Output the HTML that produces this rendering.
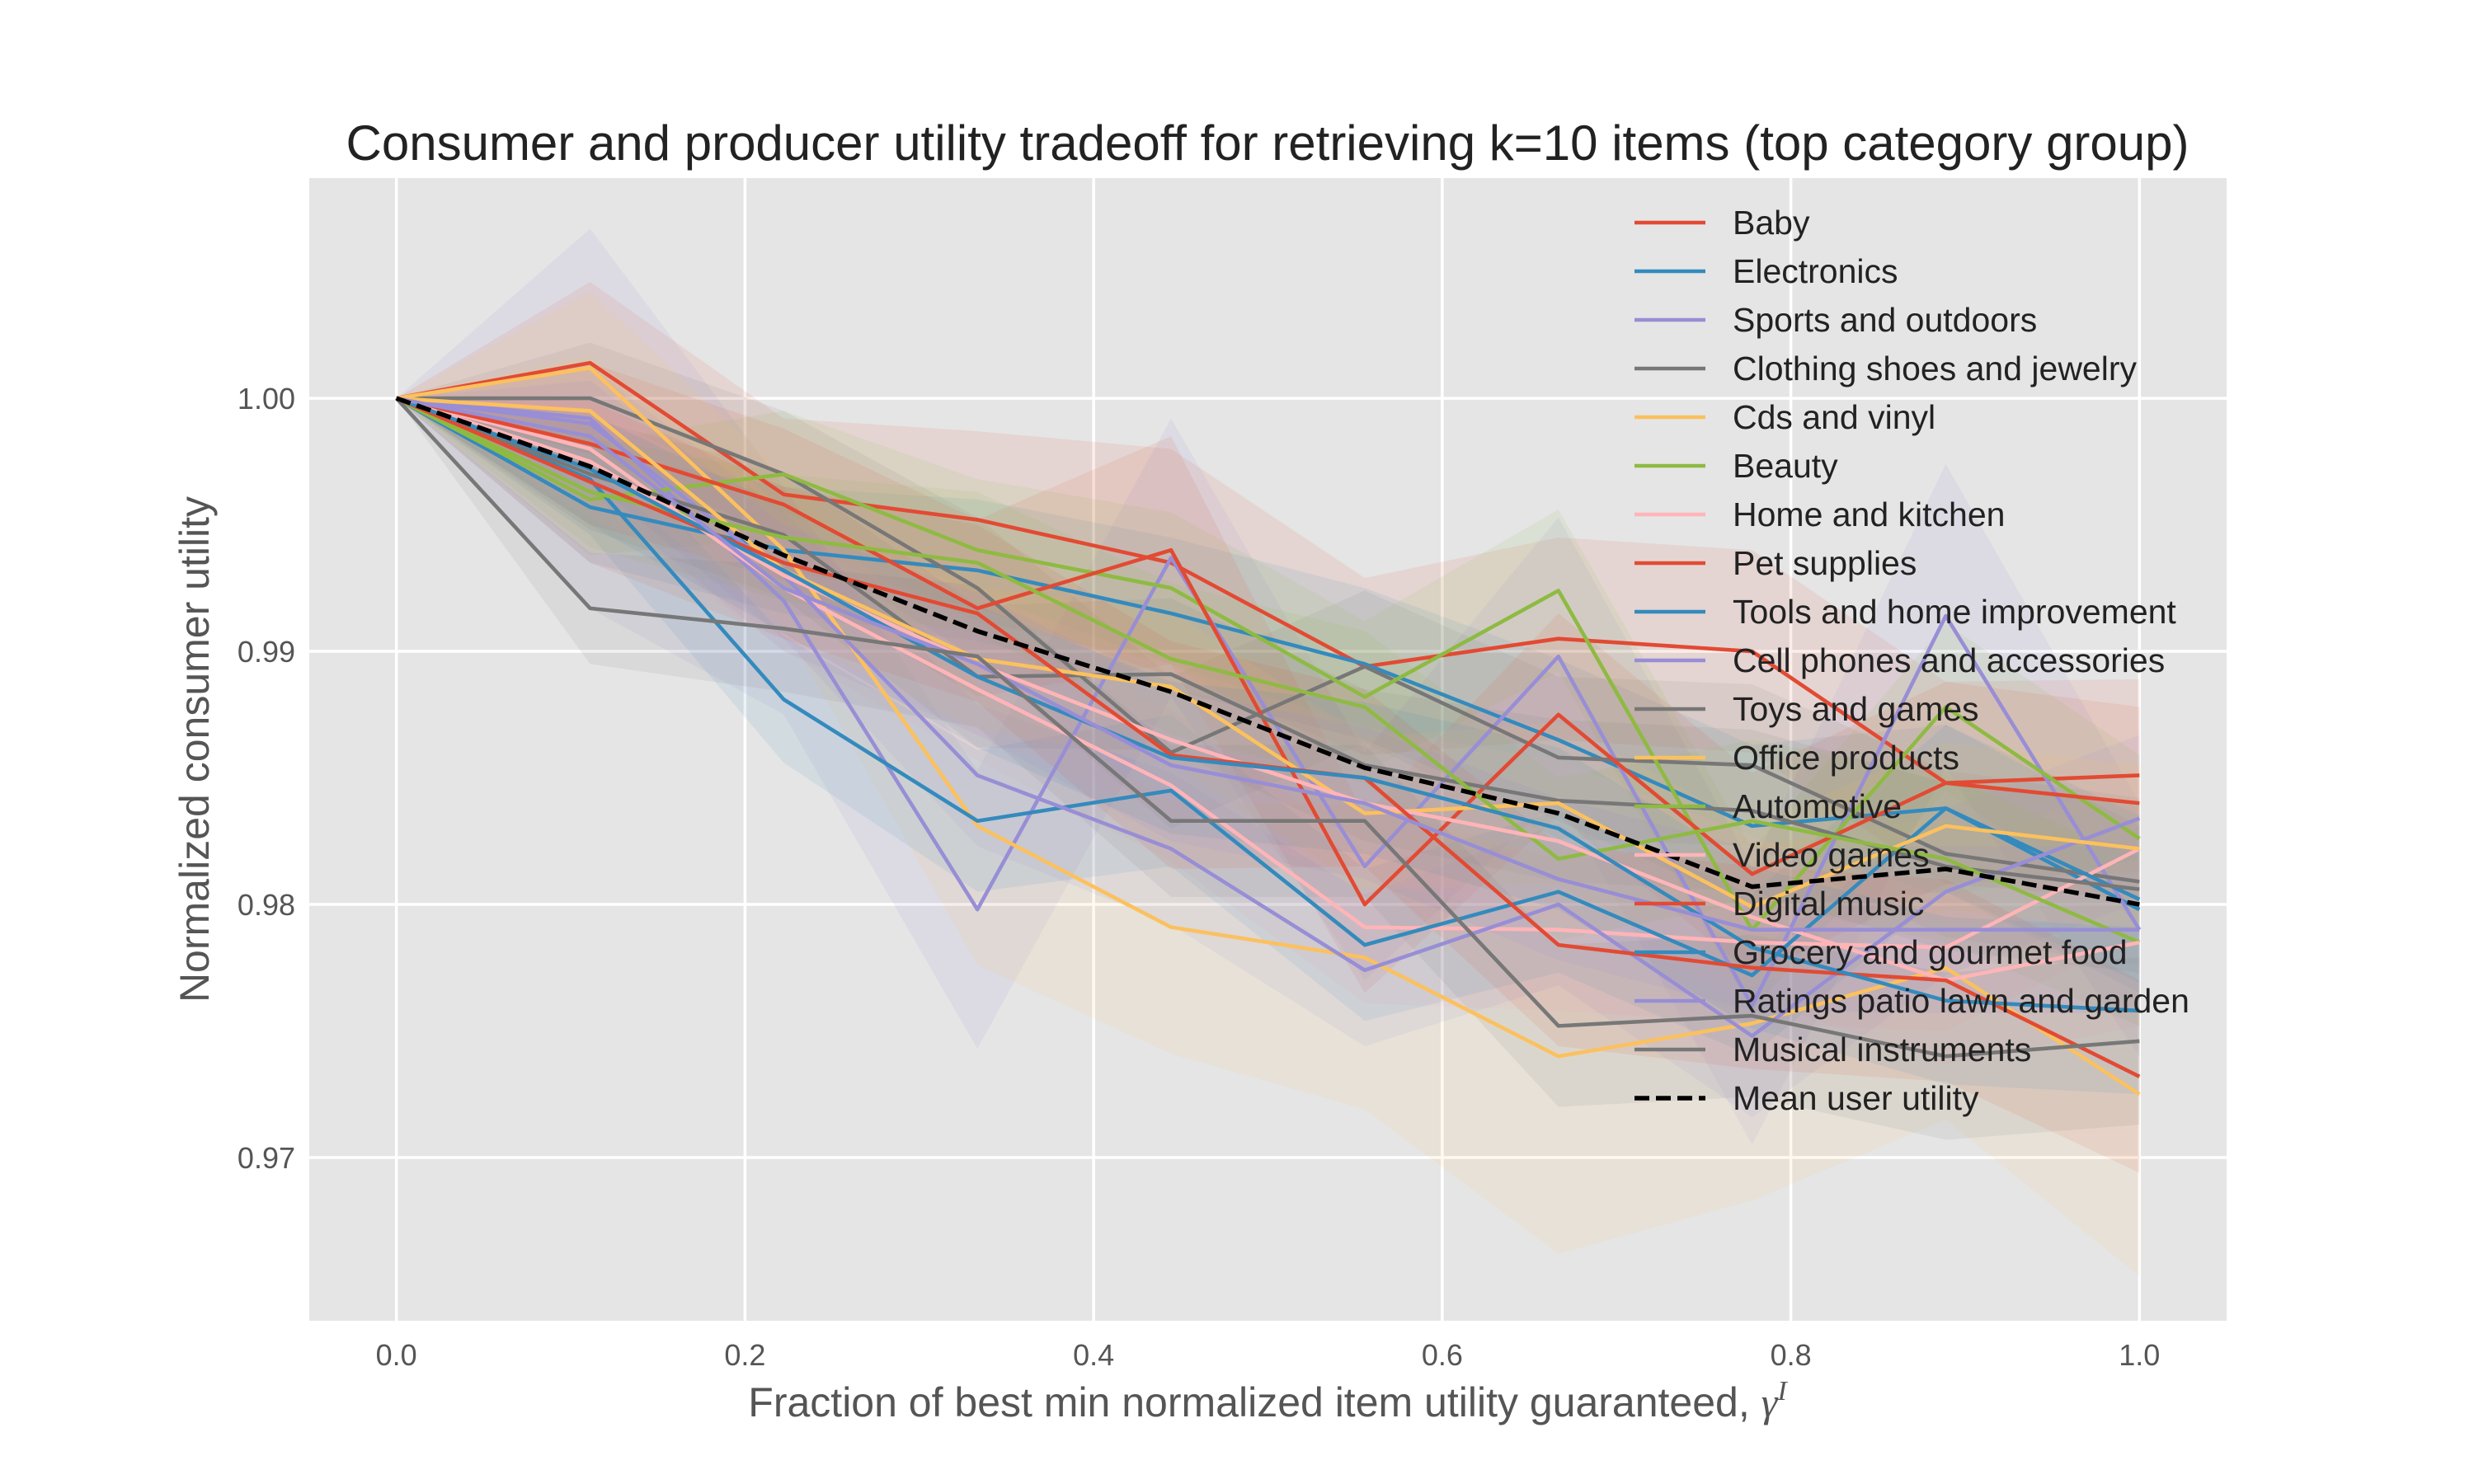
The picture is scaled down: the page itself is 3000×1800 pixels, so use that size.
<!DOCTYPE html>
<html><head><meta charset="utf-8"><style>
html,body{margin:0;padding:0;background:#fff;}
svg{display:block;font-family:"Liberation Sans",sans-serif;}
</style></head><body>
<svg id="chart" width="3000" height="1800" viewBox="0 0 3000 1800">
<rect x="0" y="0" width="3000" height="1800" fill="#fff"/>
<rect x="375" y="216" width="2325" height="1386" fill="#E5E5E5"/>
<g id="grid"></g>
<g id="bands"></g>
<g id="lines"></g>
<g id="ticks"></g>
<g id="legend"></g>
<text x="1537" y="194" text-anchor="middle" font-size="60" fill="#222">Consumer and producer utility tradeoff for retrieving k=10 items (top category group)</text>
<text x="1537" y="1718" text-anchor="middle" font-size="50" fill="#555">Fraction of best min normalized item utility guaranteed, <tspan font-family="Liberation Serif" font-style="italic">γ</tspan><tspan font-family="Liberation Serif" font-style="italic" font-size="34" dy="-20">I</tspan></text>
<text transform="translate(253,909) rotate(-90)" text-anchor="middle" font-size="50" fill="#555">Normalized consumer utility</text>
</svg>
<script>
const xValues = [0, 1/9, 2/9, 3/9, 4/9, 5/9, 6/9, 7/9, 8/9, 1];
const seriesNames = ["Baby","Electronics","Sports and outdoors","Clothing shoes and jewelry","Cds and vinyl","Beauty","Home and kitchen","Pet supplies","Tools and home improvement","Cell phones and accessories","Toys and games","Office products","Automotive","Video games","Digital music","Grocery and gourmet food","Ratings patio lawn and garden","Musical instruments"];
const baby = [1, 1.0014, 0.9962, 0.9952, 0.9935, 0.9894, 0.9905, 0.9900, 0.9848, 0.9851];
const electronics = [1, 0.9957, 0.9940, 0.9932, 0.9915, 0.9895, 0.9865, 0.9831, 0.9838, 0.9798];
const sports = [1, 0.9992, 0.9920, 0.9798, 0.9937, 0.9815, 0.9898, 0.9760, 0.9914, 0.9790];
const clothing = [1, 1.0000, 0.9970, 0.9925, 0.9860, 0.9894, 0.9858, 0.9855, 0.9820, 0.9809];
const cds = [1, 1.0012, 0.9940, 0.9831, 0.9791, 0.9779, 0.9740, 0.9753, 0.9775, 0.9725];
const beauty = [1, 0.9960, 0.9970, 0.9940, 0.9925, 0.9882, 0.9924, 0.9790, 0.9878, 0.9826];
const home = [1, 0.9980, 0.9925, 0.9885, 0.9847, 0.9791, 0.9790, 0.9785, 0.9783, 0.9822];
const pet = [1, 0.9982, 0.9958, 0.9917, 0.9940, 0.9800, 0.9875, 0.9812, 0.9848, 0.9840];
const tools = [1, 0.9968, 0.9881, 0.9833, 0.9845, 0.9784, 0.9805, 0.9772, 0.9838, 0.9802];
const cell = [1, 0.9990, 0.9930, 0.9851, 0.9822, 0.9774, 0.9800, 0.9748, 0.9805, 0.9834];
const toys = [1, 0.9970, 0.9946, 0.9890, 0.9891, 0.9855, 0.9841, 0.9837, 0.9815, 0.9806];
const office = [1, 0.9995, 0.9932, 0.9897, 0.9886, 0.9836, 0.9840, 0.9799, 0.9831, 0.9822];
const automotive = [1, 0.9963, 0.9945, 0.9935, 0.9897, 0.9878, 0.9818, 0.9833, 0.9818, 0.9785];
const video = [1, 0.9975, 0.9930, 0.9895, 0.9865, 0.9840, 0.9825, 0.9795, 0.9770, 0.9785];
const digital = [1, 0.9967, 0.9935, 0.9915, 0.9859, 0.9850, 0.9784, 0.9775, 0.9770, 0.9732];
const grocery = [1, 0.9972, 0.9932, 0.9890, 0.9858, 0.9850, 0.9830, 0.9783, 0.9762, 0.9758];
const ratings = [1, 0.9985, 0.9925, 0.9895, 0.9855, 0.9840, 0.9810, 0.9790, 0.9790, 0.9790];
const musical = [1, 0.9917, 0.9909, 0.9898, 0.9833, 0.9833, 0.9752, 0.9756, 0.9740, 0.9746];
const meanUtility = [1, 0.9973, 0.9938, 0.9908, 0.9884, 0.9854, 0.9836, 0.9807, 0.9814, 0.9800];
const errDefault = [0, 0.0022, 0.0025, 0.0028, 0.003, 0.003, 0.0032, 0.0032, 0.0033, 0.0033];
const errWide = [0, 0.0075, 0.0045, 0.0055, 0.0055, 0.0045, 0.0055, 0.0055, 0.006, 0.005];
const errRed = [0, 0.0032, 0.003, 0.0035, 0.0045, 0.0035, 0.004, 0.004, 0.004, 0.0038];
const errCds = [0, 0.003, 0.003, 0.0055, 0.005, 0.006, 0.0078, 0.007, 0.006, 0.0072];
const xTicks = [0, 0.2, 0.4, 0.6, 0.8, 1.0];
const xTickLabels = ["0.0","0.2","0.4","0.6","0.8","1.0"];
const yTicks = [0.97, 0.98, 0.99, 1.00];
const yTickLabels = ["0.97","0.98","0.99","1.00"];

const seriesValues = [baby, electronics, sports, clothing, cds, beauty, home, pet, tools, cell, toys, office, automotive, video, digital, grocery, ratings, musical];
const seriesErr = [errRed, errDefault, errWide, errDefault, errCds, errDefault, errDefault, errRed, errDefault, errDefault, errDefault, errDefault, errDefault, errDefault, errRed, errDefault, errDefault, errDefault];
const palette = ["#E24A33","#348ABD","#988ED5","#777777","#FBC15E","#8EBA42","#FFB5B8"];

const X0=375, X1=2700, Y0=216, Y1=1602, xmin=-0.05, xmax=1.05, ymin=0.96355, ymax=1.0087;
function sx(v){return X0+(v-xmin)/(xmax-xmin)*(X1-X0);}
function sy(v){return Y1-(v-ymin)/(ymax-ymin)*(Y1-Y0);}
const NS="http://www.w3.org/2000/svg";
function mk(tag, attrs, parent){const e=document.createElementNS(NS,tag);for(const k in attrs)e.setAttribute(k,attrs[k]);parent.appendChild(e);return e;}

const grid=document.getElementById('grid');
xTicks.forEach((t,i)=>{
  const l=mk('line',{x1:sx(t),x2:sx(t),y1:Y0,y2:Y1,stroke:'#fff','stroke-width':3.5},grid);
  
  
});
yTicks.forEach((t,i)=>{
  const l=mk('line',{x1:X0,x2:X1,y1:sy(t),y2:sy(t),stroke:'#fff','stroke-width':3.5},grid);
  
  
});
const ticks=document.getElementById('ticks');
xTicks.forEach((t,i)=>{
  const tx=mk('text',{x:sx(t),y:1656,'text-anchor':'middle','font-size':36,fill:'#555'},ticks);
  tx.textContent=xTickLabels[i];
  
  
});
yTicks.forEach((t,i)=>{
  const tx=mk('text',{x:358,y:sy(t)+13,'text-anchor':'end','font-size':36,fill:'#555'},ticks);
  tx.textContent=yTickLabels[i];
  
  
});

const bands=document.getElementById('bands');
const lines=document.getElementById('lines');
seriesValues.forEach((vals,i)=>{
  const c=palette[i%7], err=seriesErr[i];
  let up=vals.map((v,j)=>sx(xValues[j])+','+sy(v+err[j]));
  let dn=vals.map((v,j)=>sx(xValues[j])+','+sy(v-err[j])).reverse();
  const b=mk('polygon',{points:up.concat(dn).join(' '),fill:c,'fill-opacity':0.1},bands);
  
  
});
seriesValues.forEach((vals,i)=>{
  const c=palette[i%7];
  const p=mk('polyline',{points:vals.map((v,j)=>sx(xValues[j])+','+sy(v)).join(' '),fill:'none',stroke:c,'stroke-width':4.6,'stroke-linejoin':'round'},lines);
  
  
});
const m=mk('polyline',{points:meanUtility.map((v,j)=>sx(xValues[j])+','+sy(v)).join(' '),fill:'none',stroke:'#000','stroke-width':5.5,'stroke-dasharray':'18 8'},lines);



const legend=document.getElementById('legend');
const legendNames=seriesNames.concat(["Mean user utility"]);
legendNames.forEach((n,i)=>{
  const y=270+i*59.0;
  const isMean=i===seriesNames.length;
  const ln=mk('line',{x1:1982,x2:2068,y1:y,y2:y,stroke:isMean?'#000':palette[i%7],'stroke-width':isMean?5.5:4.6},legend);
  if(isMean) ln.setAttribute('stroke-dasharray','18 8');
  
  
  const t=mk('text',{x:2101,y:y+14,'font-size':41,fill:'#222'},legend);
  t.textContent=n;
  
  
});
</script>
</body></html>
